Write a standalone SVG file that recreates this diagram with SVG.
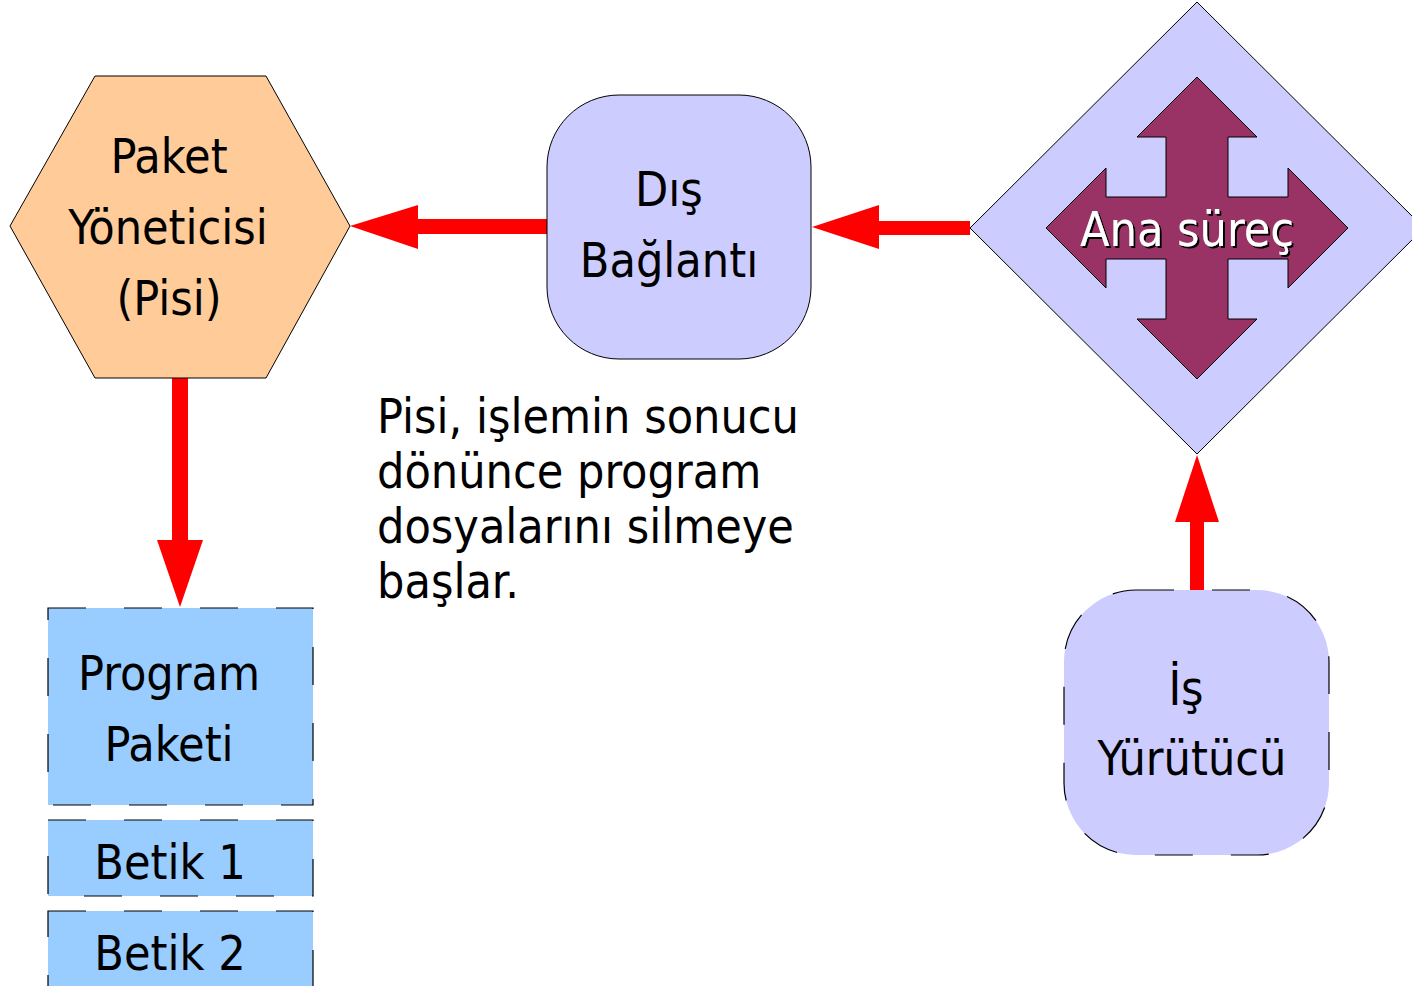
<svg xmlns="http://www.w3.org/2000/svg" width="1412" height="986" viewBox="0 0 1412 986">
<style>
text{font-family:"DejaVu Sans Condensed","DejaVu Sans",sans-serif;font-stretch:condensed;font-size:48px;fill:#000}
.c{text-anchor:middle}
.ln{stroke:#000;stroke-width:1}
.dash{stroke:#000;stroke-width:1.2;stroke-dasharray:38 38}
.red{fill:#ff0000;stroke:none}
</style>
<defs>
<filter id="sh" x="-10%" y="-10%" width="130%" height="140%">
<feOffset dx="2" dy="2" in="SourceAlpha" result="o"/>
<feFlood flood-color="#000"/>
<feComposite in2="o" operator="in" result="s"/>
<feMerge><feMergeNode in="s"/><feMergeNode in="SourceGraphic"/></feMerge>
</filter>
</defs>
<rect width="1412" height="986" fill="#fff"/>

<g id="connectors">
<polygon class="red" points="547,219 418,219 418,205 350,226 418,249 418,234 547,234"/>
<polygon class="red" points="970,221 879,221 879,205 812,227 879,249 879,235 970,235"/>
<polygon class="red" points="172,378 188,378 188,540 203,540 180,607 157,540 172,540"/>
<polygon class="red" points="1190,590 1190,522 1175,522 1197,455 1219,522 1204,522 1204,590"/>
</g>

<g id="paket-yoneticisi">
<polygon class="ln" fill="#ffcc99" points="95,76 266,76 350,226 266,378 95,378 10,226"/>
<text class="c" x="169" y="173">Paket</text>
<text class="c" x="168" y="244">Yöneticisi</text>
<text class="c" x="169" y="315">(Pisi)</text>
</g>

<g id="dis-baglanti">
<rect class="ln" fill="#ccccff" x="547" y="95" width="264" height="264" rx="72" ry="72"/>
<text class="c" x="669" y="206">Dış</text>
<text class="c" x="669" y="277">Bağlantı</text>
</g>

<g id="ana-surec">
<polygon class="ln" fill="#ccccff" points="1197,2 1424,228 1197,454 970,228"/>
<polygon class="ln" fill="#993366" points="1197,77 1257,137 1228,137 1228,197 1288,197 1288,168 1348,228 1288,288 1288,259 1228,259 1228,319 1257,319 1197,379 1137,319 1166,319 1166,259 1106,259 1106,288 1046,228 1106,168 1106,197 1166,197 1166,137 1137,137"/>
<text class="c" x="1187" y="246" style="fill:#fff" filter="url(#sh)">Ana süreç</text>
</g>

<g id="is-yurutucu">
<rect class="dash" fill="#ccccff" x="1064" y="590" width="265" height="265" rx="72" ry="72"/>
<text class="c" x="1186" y="705">İş</text>
<text class="c" x="1192" y="775">Yürütücü</text>
</g>

<g id="aciklama">
<text x="377" y="433">Pisi, işlemin sonucu</text>
<text x="377" y="488">dönünce program</text>
<text x="377" y="543">dosyalarını silmeye</text>
<text x="377" y="598">başlar.</text>
</g>

<g id="program-paketi">
<rect class="dash" fill="#99ccff" x="48" y="608" width="265" height="197"/>
<text class="c" x="169" y="690">Program</text>
<text class="c" x="169" y="761">Paketi</text>
</g>

<g id="betik-1">
<rect class="dash" fill="#99ccff" x="48" y="820" width="265" height="76"/>
<text class="c" x="170" y="879">Betik 1</text>
</g>

<g id="betik-2">
<rect class="dash" fill="#99ccff" x="48" y="911" width="265" height="90"/>
<text class="c" x="170" y="970">Betik 2</text>
</g>
</svg>
